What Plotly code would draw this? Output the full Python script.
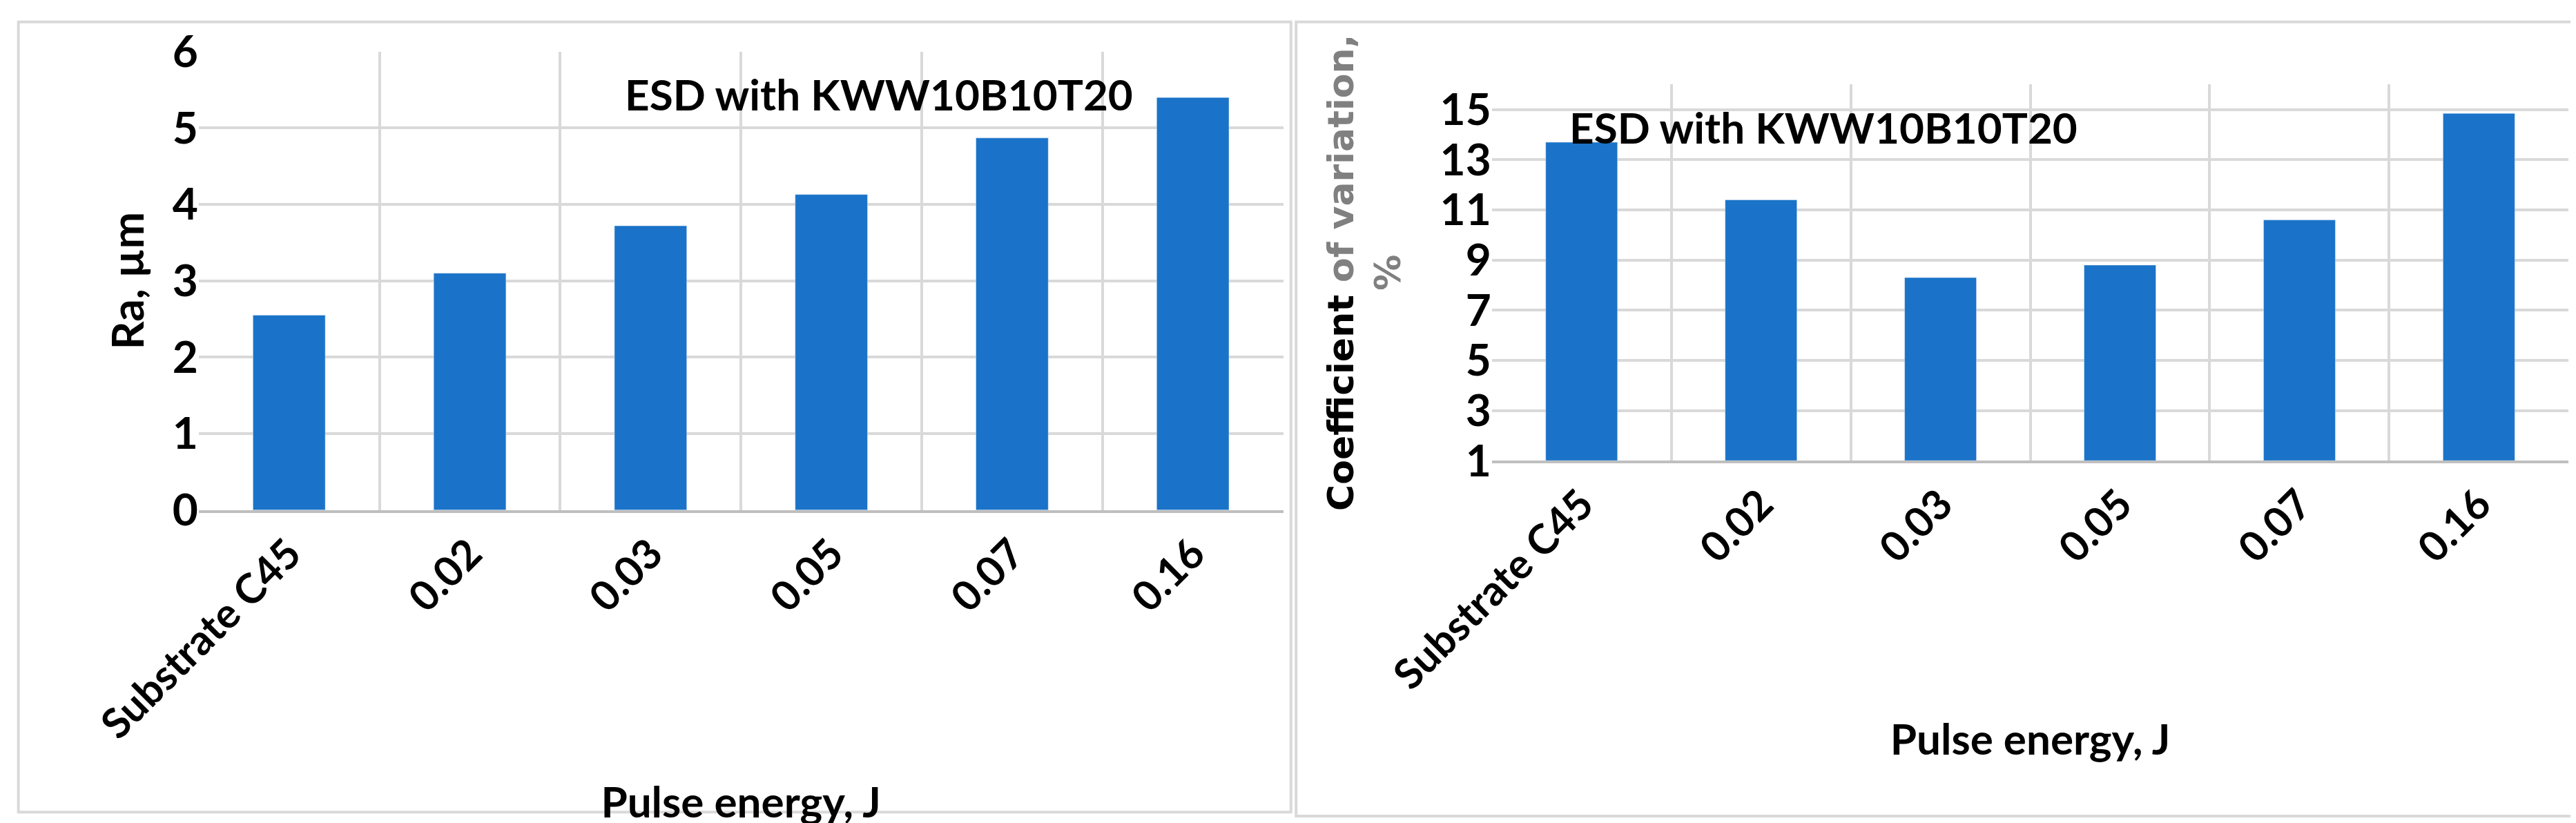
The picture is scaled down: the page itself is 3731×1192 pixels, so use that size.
import plotly.graph_objects as go

categories = ["Substrate C45", "0.02", "0.03", "0.05", "0.07", "0.16"]
ra_values = [2.55, 3.1, 3.72, 4.13, 4.87, 5.4]
cv_values = [13.7, 11.4, 8.3, 8.8, 10.6, 14.85]
chart_title = "ESD with KWW10B10T20"

BLUE = "#1a73c8"
GRID = "#d9d9d9"
FONT = "Lato"

fig = go.Figure()
fig.add_trace(go.Scatter(x=[0], y=[0], xaxis="x3", yaxis="y", mode="markers", marker_opacity=0, hoverinfo="skip"))
fig.add_trace(go.Scatter(x=[0], y=[1], xaxis="x4", yaxis="y2", mode="markers", marker_opacity=0, hoverinfo="skip"))
fig.add_trace(go.Bar(x=categories, y=ra_values, marker_color=BLUE, width=0.4, xaxis="x", yaxis="y"))
fig.add_trace(go.Bar(x=categories, y=[v - 1 for v in cv_values], base=1, marker_color=BLUE, width=0.4, xaxis="x2", yaxis="y2"))

tickf = dict(family=FONT, size=64, color="black")
xcommon = dict(type="category", tickangle=-45, tickfont=dict(family=FONT, size=60, color="black"),
               showgrid=False, showline=True, linecolor="#bfbfbf", linewidth=4, ticks="", automargin=False)
fig.update_layout(
    width=3731, height=1192, margin=dict(l=0, r=0, t=0, b=0, autoexpand=False),
    paper_bgcolor="white", plot_bgcolor="white", showlegend=False, bargap=0.6,
    font=dict(family=FONT, color="black"),
    xaxis=dict(domain=[0.075, 0.496], anchor="y",
               ticktext=[f"<b>{c}</b>" for c in categories], tickvals=categories,
               title=dict(text="<b>Pulse energy, J</b>", font=dict(family=FONT, size=62), standoff=60), **xcommon),
    yaxis=dict(domain=[0.387, 0.944], range=[0, 6], dtick=1, tickfont=tickf, gridcolor=GRID, gridwidth=4,
               zeroline=False, showline=False, ticks="", automargin=False, tickprefix="<b>", ticksuffix="</b>",
               title=dict(text="<b>Ra, µm</b>", font=dict(family=FONT, size=64), standoff=20)),
    xaxis2=dict(domain=[0.577, 0.995], anchor="y2",
                ticktext=[f"<b>{c}</b>" for c in categories], tickvals=categories,
                title=dict(text="<b>Pulse energy, J</b>", font=dict(family=FONT, size=62), standoff=40), **xcommon),
    yaxis2=dict(domain=[0.447, 0.904], range=[1, 16], tickvals=[1, 3, 5, 7, 9, 11, 13, 15],
                ticktext=[f"<b>{v}</b>" for v in [1, 3, 5, 7, 9, 11, 13, 15]], tickfont=tickf,
                gridcolor=GRID, gridwidth=4, zeroline=False, showline=False, ticks="", anchor="x2", automargin=False,
                title=dict(text="<b>Coefficient <span style='color:#808080'>of variation,</span><br><span style='color:#808080'>%</span></b>",
                           font=dict(family="DejaVu Sans", size=52), standoff=40)),
    xaxis3=dict(domain=[0.075, 0.496], anchor="y", overlaying="x", range=[-0.5, 5.5], tick0=-0.5, dtick=1,
                showticklabels=False, showgrid=True, gridcolor=GRID, gridwidth=4, zeroline=False, side="top", automargin=False),
    xaxis4=dict(domain=[0.577, 0.995], anchor="y2", overlaying="x2", range=[-0.5, 5.5], tick0=-0.5, dtick=1,
                showticklabels=False, showgrid=True, gridcolor=GRID, gridwidth=4, zeroline=False, side="top", automargin=False),
)

fig.add_annotation(text=f"<b>{chart_title}</b>", xref="paper", yref="paper", x=0.24, y=0.925,
                   showarrow=False, font=dict(family=FONT, size=62, color="black"))
fig.add_annotation(text=f"<b>{chart_title}</b>", xref="paper", yref="paper", x=0.805, y=0.885,
                   showarrow=False, font=dict(family=FONT, size=62, color="black"))
fig.add_shape(type="rect", xref="paper", yref="paper", x0=0.005, x1=0.499, y0=0.02, y1=0.98,
              line=dict(color="#d9d9d9", width=4))
fig.add_shape(type="rect", xref="paper", yref="paper", x0=0.501, x1=0.999, y0=0.015, y1=0.98,
              line=dict(color="#d9d9d9", width=4))

fig.write_html("out.html")
